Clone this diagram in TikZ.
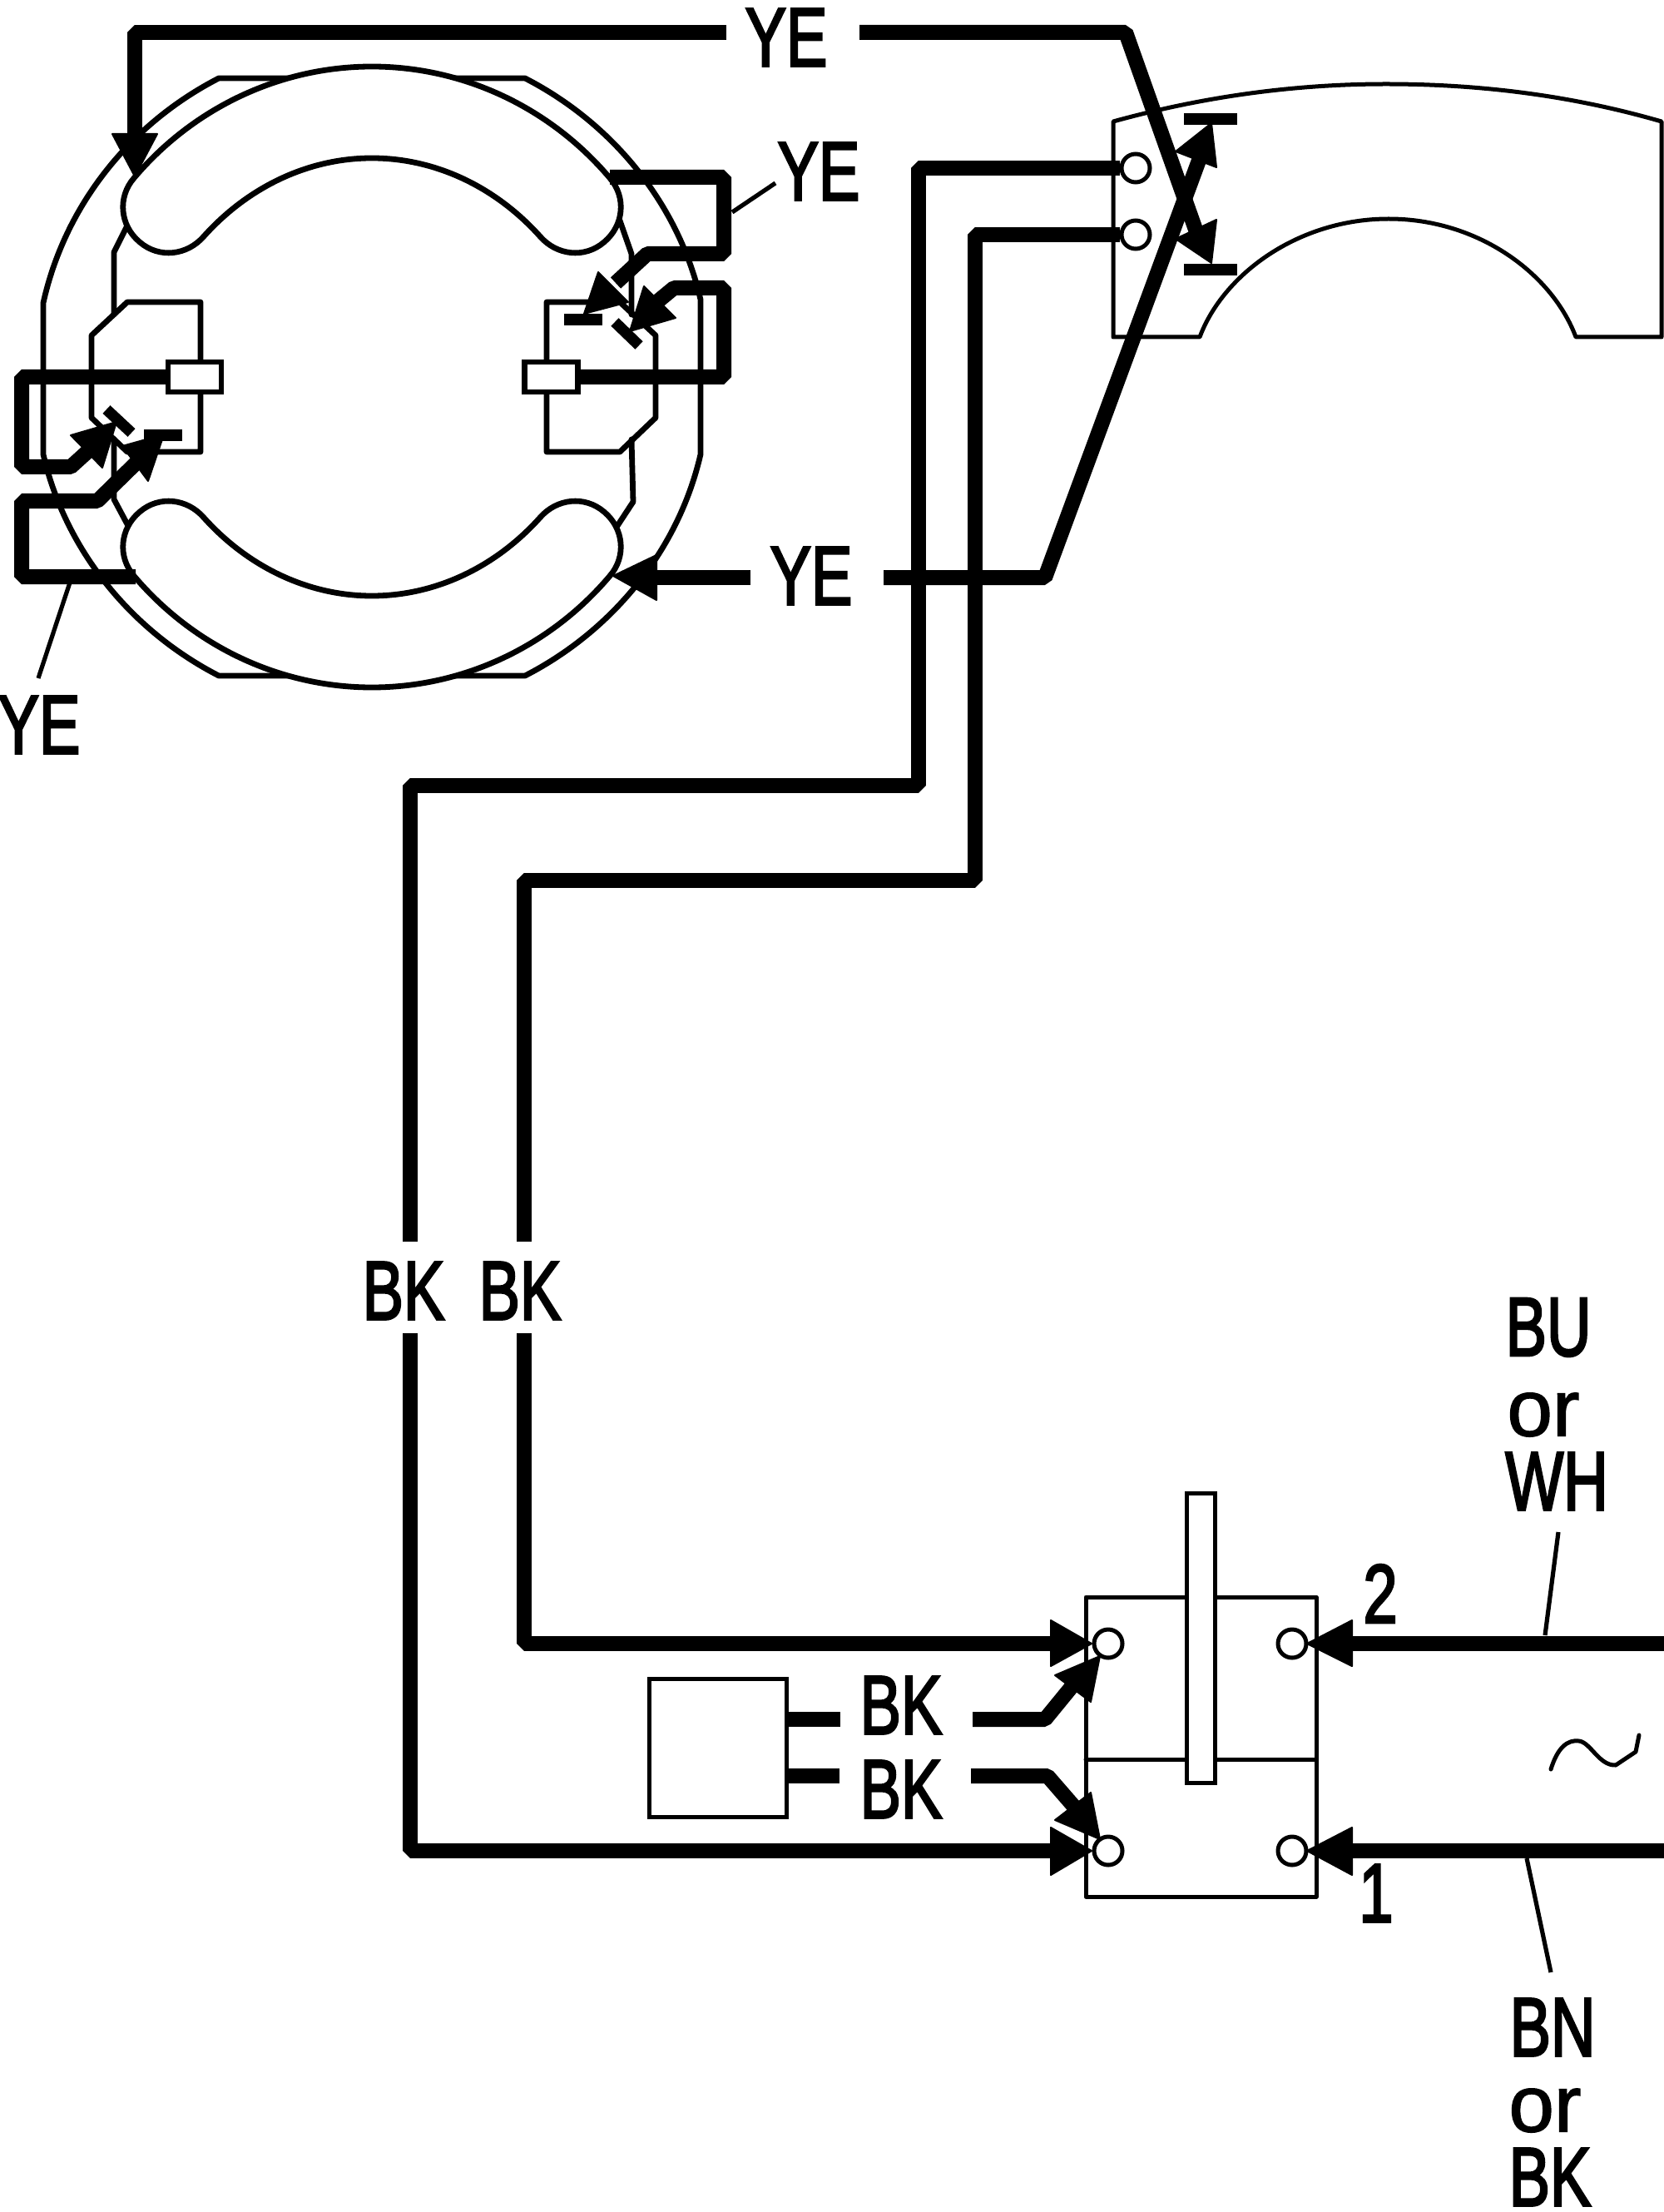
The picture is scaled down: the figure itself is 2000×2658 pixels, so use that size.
\documentclass[tikz,border=0pt]{standalone}
\usepackage{fontspec}
\newfontfamily\labfont[FakeBold=3]{Liberation Sans}
\newfontfamily\orfont[FakeBold=1.5]{Liberation Sans}
\tikzset{
  thin line/.style={line width=3.4pt,line join=round,line cap=round},
  fine line/.style={line width=2.5pt,line join=round,line cap=round},
  lead line/.style={line width=2.6pt},
  wire/.style={line width=9pt,line join=bevel},
  bar/.style={line width=6.6pt},
  lab/.style={font=\labfont\fontsize{50}{50}\selectfont,xscale=.74,inner sep=0pt},
  labwide/.style={font=\orfont\fontsize{48}{48}\selectfont,xscale=1.02,inner sep=0pt},
  terminal/.style={draw,fill=white,circle,line width=2.5pt,minimum size=17pt,inner sep=0pt},
  head/.style={fill=black,draw=black,line width=1pt,line join=round},
}
\newcommand{\shoepath}{
  (161,214) .. controls (232,130) and (336,80) .. (447,80)
  .. controls (558,80) and (662,130) .. (733,214)
  .. controls (753,237) and (750,271) .. (726,291)
  .. controls (702.5,311) and (669,307) .. (649,284)
  .. controls (597,226) and (525,190) .. (447,190)
  .. controls (369,190) and (297,226) .. (245,284)
  .. controls (225,307) and (191.5,311) .. (168,291)
  .. controls (144,271) and (141,237) .. (161,214) -- cycle}
\begin{document}
\begin{tikzpicture}[x=0.5pt,y=-0.5pt]
\useasboundingbox (0,0) rectangle (2000,2658);
\fill[white] (0,0) rectangle (2000,2658);
% brake outline
\draw[thin line] (52,364) .. controls (78,247) and (156,149) .. (263,94) -- (631,94)
  .. controls (738,149) and (816,247) .. (842,360) -- (842,546)
  .. controls (816,659) and (738,757) .. (631,812) -- (263,812)
  .. controls (156,757) and (78,659) .. (52,546) -- cycle;
% rails
\draw[thin line] (156,265) -- (137,303) -- (137,378);
\draw[thin line] (137,528) -- (137,600) -- (153,630);
\draw[thin line] (745,265) -- (759,305) -- (759,378);
\draw[thin line] (759,528) -- (761,603) -- (738,638);
% actuator boxes
\draw[thin line] (153,543) -- (241,543) -- (241,363) -- (153,363) -- (110,403) -- (110,502) -- cycle;
\draw[thin line] (745,363) -- (657,363) -- (657,543) -- (745,543) -- (788,502) -- (788,403) -- cycle;
% shoes
\draw[thin line,fill=white] \shoepath;
\begin{scope}[shift={(0,906)},yscale=-1]
\draw[thin line,fill=white] \shoepath;
\end{scope}
% wires left side
\draw[wire] (199,453) -- (26,453) -- (26,561) -- (85,561) -- (117,532);
\draw[wire] (163,693) -- (26,693) -- (26,602) -- (117,602) -- (167,553);
\draw[wire] (733,213) -- (870,213) -- (870,305) -- (778,305) -- (740,340);
\draw[wire] (698,453) -- (870,453) -- (870,346) -- (810,346) -- (787,365);
\node[draw,fill=white,line width=3.4pt,minimum width=32pt,minimum height=18pt,inner sep=0pt] (tL) at (234,453) {};
\node[draw,fill=white,line width=3.4pt,minimum width=32pt,minimum height=18pt,inner sep=0pt] (tR) at (662.5,453) {};
% arrows and bars in the brake
\draw[head] (85,523) -- (123,562) -- (140,507) -- cycle;
\draw[bar] (128,492) -- (158,520);
\draw[head] (147,536) -- (178,578) -- (197,522) -- cycle;
\draw[bar] (173,523) -- (219,523);
\draw[head] (719,327) -- (755,363) -- (702,377) -- cycle;
\draw[bar] (678,384) -- (724,384);
\draw[head] (774,344) -- (812,382) -- (757,398) -- cycle;
\draw[bar] (739,387) -- (768,415);
% top wire
\coordinate (topend) at (873,39);
\draw[wire] (topend) -- (162,39) -- (162,165);
\draw[head] (135,161) -- (189,161) -- (162,212) -- cycle;
% mid arrow
\draw[wire] (902,694) -- (785,694);
\draw[head] (789,667) -- (789,721) -- (737,692) -- cycle;
% right panel
\draw[fine line] (1338,146) .. controls (1450,115) and (1560,101) .. (1666,101)
  .. controls (1780,101) and (1890,115) .. (1997,146) -- (1997,405) -- (1894,405)
  .. controls (1866,330) and (1778,263) .. (1669,263)
  .. controls (1560,263) and (1470,330) .. (1442,405) -- (1338,405) -- cycle;
\node[terminal] (pa) at (1365,202) {};
\node[terminal] (pb) at (1365,282) {};
% BK wires to the panel and switch
\draw[wire] (pa.west) -- (1104,202) -- (1104,944) -- (493,944) -- (493,1492);
\draw[wire] (pb.west) -- (1172,282) -- (1172,1058) -- (630,1058) -- (630,1492);
\draw[wire] (493,1602) -- (493,2224) -- (1270,2224);
\draw[wire] (630,1602) -- (630,1975) -- (1270,1975);
% YE wires crossing
\draw[wire] (1033,39) -- (1353,39) -- (1442,290);
\draw[wire] (1062,694) -- (1256,694) -- (1442,190);
\draw[head] (1413,182) -- (1462,201) -- (1456,148) -- cycle;
\draw[head] (1413,287) -- (1462,264) -- (1456,316) -- cycle;
\draw[bar] (1423,143) -- (1487,143);
\draw[bar] (1423,324) -- (1487,324);
% switch
\draw[fine line] (1305,1919) rectangle (1582,2279);
\draw[fine line] (1305,2114) -- (1582,2114);
\node[draw,fill=white,line width=2.5pt,minimum width=17pt,minimum height=174pt,inner sep=0pt] (slider) at (1443,1968) {};
\node[terminal] (sa) at (1332,1975) {};
\node[terminal] (sb) at (1553,1975) {};
\node[terminal] (sc) at (1332,2224) {};
\node[terminal] (sd) at (1553,2224) {};
\draw[head] (1263,1947) -- (1263,2002) -- (1312,1975) -- cycle;
\draw[head] (1263,2196) -- (1263,2253) -- (1312,2224) -- cycle;
\coordinate (mainsA) at (2000,1975);
\coordinate (mainsB) at (2000,2224);
\draw[wire] (mainsA) -- (1620,1975);
\draw[wire] (mainsB) -- (1620,2224);
\draw[head] (1625,1947) -- (1625,2002) -- (1571,1975) -- cycle;
\draw[head] (1625,2196) -- (1625,2253) -- (1571,2224) -- cycle;
% capacitor box
\node[draw,line width=2.5pt,minimum width=82.5pt,minimum height=83pt,inner sep=0pt] (cap) at (862.5,2100) {};
\draw[wire] (945,2066) -- (1010,2066);
\draw[wire] (945,2134) -- (1009,2134);
\draw[wire] (1169,2066) -- (1256,2066) -- (1292,2022);
\draw[wire] (1167,2134) -- (1259,2134) -- (1292,2172);
\draw[head] (1268,2013) -- (1311,2045) -- (1322,1990) -- cycle;
\draw[head] (1311,2154) -- (1268,2187) -- (1322,2210) -- cycle;
% leaders
\draw[lead line] (84,700) -- (46,815);
\draw[lead line] (880,255) -- (932,220);
\draw[lead line] (1873,1841) -- (1857,1965);
\draw[lead line] (1835,2233) -- (1864,2370);
% tilde
\draw[fine line] (1864,2126) .. controls (1872,2100) and (1884,2090) .. (1898,2092)
  .. controls (1912,2094) and (1922,2122) .. (1942,2121) -- (1966,2105) -- (1970,2085);
% labels
\node[lab] (l1) at (945,45) {YE};
\node[lab] (l2) at (984,206) {YE};
\node[lab] (l3) at (975,692) {YE};
\node[lab] (l4) at (47,871) {YE};
\node[lab] (l5) at (485,1551) {BK};
\node[lab] (l6) at (625,1551) {BK};
\node[lab] (l7) at (1083,2049) {BK};
\node[lab] (l8) at (1083,2150) {BK};
\node[lab] (l9) at (1861,1595) {BU};
\node[labwide] (l10) at (1855,1700) {or};
\node[lab] (l11) at (1871,1780) {WH};
\node[lab] (l12) at (1866,2436) {BN};
\node[labwide] (l13) at (1857,2536) {or};
\node[lab] (l14) at (1863,2616) {BK};
\node[lab] (l15) at (1659,1915) {2};
\node[lab] (l16) at (1654,2275) {1};
\end{tikzpicture}
\end{document}
